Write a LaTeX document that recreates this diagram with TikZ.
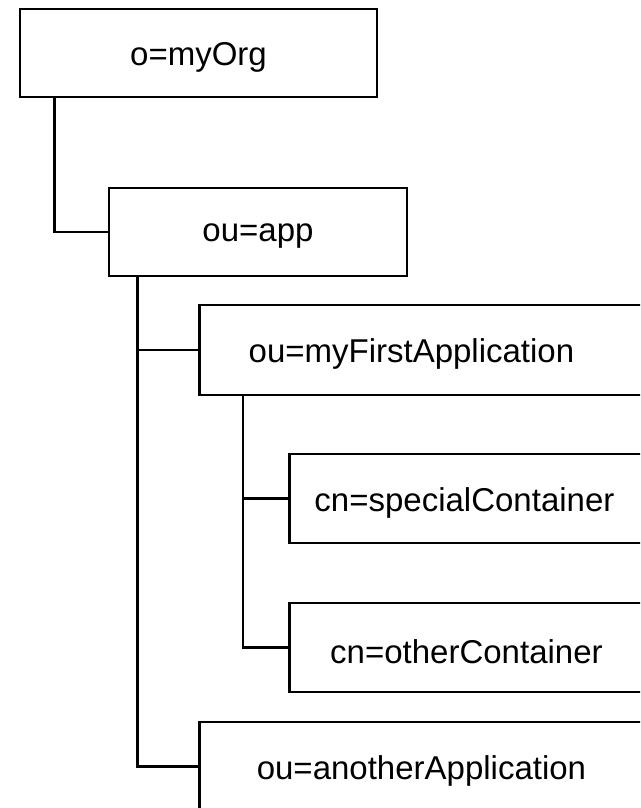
\documentclass[tikz,border=0pt]{standalone}
\usepackage{fontspec}
\setmainfont{Liberation Sans}
\usetikzlibrary{calc}
\begin{document}
\begin{tikzpicture}[x=1pt,y=-1pt,
  entry/.style={draw=black, line width=2.9pt, fill=white, rectangle, inner sep=0pt},
  caption/.style={font=\fontsize{33}{40}\selectfont, yshift=-4pt},
  link/.style={draw=black, line width=2.9pt}]
\clip (0,0) rectangle (640,808);
\fill[white] (0,0) rectangle (640,808);
% boxes
\node[entry, minimum width=357pt, minimum height=88pt,
  label={[caption]center:o=myOrg}] (b1) at (198.5,53) {};
\node[entry, minimum width=298pt, minimum height=88pt,
  label={[caption]center:ou=app}] (b2) at (258,232) {};
\node[entry, minimum width=480pt, minimum height=90pt, anchor=west,
  label={[caption, xshift=-28pt]center:ou=myFirstApplication}] (b3) at (198,350) {};
\node[entry, minimum width=400pt, minimum height=89pt, anchor=west,
  label={[caption, xshift=-25pt]center:cn=specialContainer}] (b4) at (288,498.5) {};
\node[entry, minimum width=400pt, minimum height=89pt, anchor=west,
  label={[caption, xshift=-23pt]center:cn=otherContainer}] (b5) at (288,647.5) {};
\node[entry, minimum width=480pt, minimum height=89pt, anchor=west,
  label={[caption, xshift=-18pt]center:ou=anotherApplication}] (b6) at (198,766.5) {};
% connectors
\draw[link] ($(b1.south west)+(36,0)$) |- (b2.west);
\draw[link] ($(b2.south west)+(30,0)$) |- (b6.west);
\draw[link] ($(b2.south west)+(30,0)$) |- (b3.west);
\draw[link] ($(b3.south west)+(45,0)$) |- (b5.west);
\draw[link] ($(b3.south west)+(45,0)$) |- (b4.west);
\end{tikzpicture}
\end{document}
